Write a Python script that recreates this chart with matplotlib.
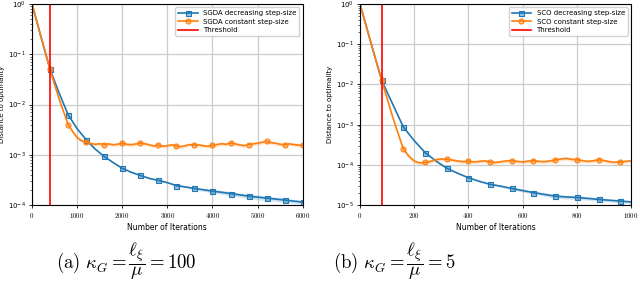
import matplotlib
matplotlib.use("Agg")
import matplotlib.pyplot as plt
from matplotlib.colors import to_rgba
from matplotlib.ticker import FuncFormatter, LogLocator, NullFormatter
import numpy as np

plt.rcParams["mathtext.fontset"] = "cm"

# ---- panel (a): SGDA, kappa = 100 ----
sgda_dec_iters = list(range(0, 6001, 200))
sgda_dec = [1.0, 0.22, 0.05, 0.017, 0.0063, 0.0033, 0.0020, 0.0013, 0.00093, 0.00070,
            0.00054, 0.00045, 0.00039, 0.00034, 0.00031, 0.00028, 0.000245, 0.00023,
            0.000215, 0.000202, 0.00019, 0.00018, 0.00017, 0.00016, 0.000151, 0.000144,
            0.000138, 0.000132, 0.000126, 0.00012, 0.000115]
sgda_dec_spread = [0.02] * 16 + [0.04, 0.05, 0.06, 0.07, 0.08, 0.09, 0.10, 0.10, 0.11,
                                 0.11, 0.11, 0.10, 0.10, 0.09, 0.08]

sgda_const_iters = list(range(0, 6001, 100))
sgda_const = [1.0, 0.47, 0.22, 0.105, 0.05, 0.025, 0.013, 0.0072, 0.0040, 0.0029,
              0.0022, 0.0019, 0.0018, 0.00168, 0.00162, 0.00166, 0.00160, 0.00165,
              0.00158, 0.00163, 0.00170, 0.00162, 0.00159, 0.00164, 0.00172, 0.00166,
              0.00158, 0.00150, 0.00156, 0.00148, 0.00152, 0.00158, 0.00150, 0.00145,
              0.00152, 0.00160, 0.00155, 0.00158, 0.00151, 0.00148, 0.00155, 0.00160,
              0.00166, 0.00162, 0.00172, 0.00165, 0.00158, 0.00152, 0.00160, 0.00165,
              0.00170, 0.00178, 0.00185, 0.00175, 0.00170, 0.00162, 0.00158, 0.00165,
              0.00160, 0.00156, 0.00155]
sgda_const_spread = [0.02] * 8 + [0.08] * 53

# ---- panel (b): SCO, kappa = 5 ----
sco_dec_iters = list(range(0, 1001, 40))
sco_dec = [1.0, 0.11, 0.0126, 0.0033, 0.00087, 0.00040, 0.000203, 0.000125, 8.3e-5,
           6.2e-5, 4.8e-5, 3.9e-5, 3.3e-5, 2.95e-5, 2.6e-5, 2.3e-5, 2.05e-5, 1.85e-5,
           1.67e-5, 1.6e-5, 1.55e-5, 1.47e-5, 1.39e-5, 1.32e-5, 1.26e-5, 1.2e-5]
sco_dec_spread = [0.02] * 12 + [0.05, 0.06, 0.07, 0.08, 0.09, 0.10, 0.10, 0.11, 0.11,
                                0.10, 0.10, 0.09, 0.09, 0.08]

sco_const_iters = list(range(0, 1001, 20))
sco_const = [1.0, 0.33, 0.11, 0.037, 0.0126, 0.0045, 0.0016, 0.00062, 0.000247,
             0.000165, 0.000125, 0.000112, 0.000115, 0.000122, 0.000135, 0.000140,
             0.000138, 0.000132, 0.000125, 0.000120, 0.000124, 0.000118, 0.000122,
             0.000126, 0.000118, 0.000115, 0.000120, 0.000125, 0.000128, 0.000122,
             0.000118, 0.000124, 0.000127, 0.000122, 0.000120, 0.000125, 0.000132,
             0.000140, 0.000145, 0.000138, 0.000134, 0.000128, 0.000122, 0.000126,
             0.000135, 0.000128, 0.000120, 0.000116, 0.000118, 0.000122, 0.000126]
sco_const_spread = [0.02] * 8 + [0.10] * 43

BLUE = "#1f77b4"
ORANGE = "#ff7f0e"


def draw(ax, dec_x, dec_y, dec_s, con_x, con_y, con_s, name, threshold, ylim, xmax,
         xstep, dec_every, con_every):
    for xs, ys, ss, c, mk, every, lab in [
        (dec_x, dec_y, dec_s, BLUE, "s", dec_every, f"{name} decreasing step-size"),
        (con_x, con_y, con_s, ORANGE, "o", con_every, f"{name} constant step-size"),
    ]:
        ys = np.array(ys)
        ss = np.array(ss)
        ax.fill_between(xs, ys * (1 - ss), ys * (1 + ss), color=c, alpha=0.2, lw=0)
        ax.plot(xs, ys, color=c, lw=1.2, marker=mk, markersize=3.6, markevery=every,
                markerfacecolor=to_rgba(c, 0.45), markeredgecolor=c,
                markeredgewidth=0.8, label=lab)
    ax.axvline(threshold, color="red", lw=1.2, label="Threshold")
    ax.set_yscale("log")
    ax.set_ylim(*ylim)
    ax.set_xlim(0, xmax)
    ax.set_xticks(np.arange(0, xmax + 1, xstep))
    ax.xaxis.set_major_formatter(FuncFormatter(lambda v, p: f"${int(v)}$"))
    ax.yaxis.set_minor_locator(LogLocator(base=10, subs=np.arange(2, 10), numticks=20))
    ax.yaxis.set_minor_formatter(NullFormatter())
    ax.tick_params(axis="both", which="major", labelsize=5, length=2.5, width=0.6, pad=2)
    ax.tick_params(axis="y", which="minor", length=1.5, width=0.4)
    ax.grid(True, which="major", color="#cccccc", lw=0.9)
    ax.set_axisbelow(True)
    for sp in ax.spines.values():
        sp.set_linewidth(0.8)
    ax.set_xlabel("Number of Iterations", fontsize=5.5, labelpad=2)
    ax.set_ylabel("Distance to optimality", fontsize=5, labelpad=2)
    ax.legend(loc="upper right", fontsize=5, handlelength=2.8, borderpad=0.4,
              labelspacing=0.35, framealpha=0.9)


fig = plt.figure(figsize=(6.4, 2.81), dpi=100)
ax1 = fig.add_axes([0.05, 0.27, 0.423, 0.716])
ax2 = fig.add_axes([0.5625, 0.27, 0.4235, 0.716])

draw(ax1, sgda_dec_iters, sgda_dec, sgda_dec_spread, sgda_const_iters, sgda_const,
     sgda_const_spread, "SGDA", 400, (1e-4, 1.0), 6000, 1000,
     slice(2, None, 2), slice(4, None, 4))
draw(ax2, sco_dec_iters, sco_dec, sco_dec_spread, sco_const_iters, sco_const,
     sco_const_spread, "SCO", 80, (1e-5, 1.0), 1000, 200,
     slice(2, None, 2), slice(4, None, 4))

fig.text(0.197, 0.072, r"$\mathrm{(a)}\ \kappa_G = \dfrac{\ell_\xi}{\mu} = 100$",
         ha="center", va="center", fontsize=13.5)
fig.text(0.616, 0.072, r"$\mathrm{(b)}\ \kappa_G = \dfrac{\ell_\xi}{\mu} = 5$",
         ha="center", va="center", fontsize=13.5)

fig.savefig("out.png", dpi=100)
